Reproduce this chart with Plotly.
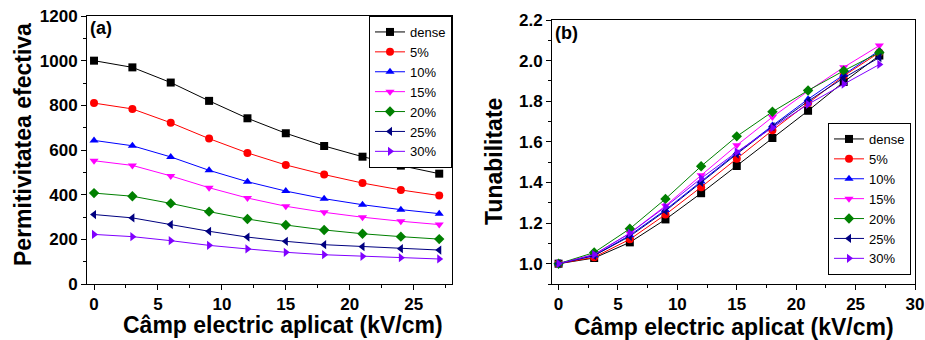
import plotly.graph_objects as go

field = [0, 3, 6, 9, 12, 15, 18, 21, 24, 27]
series_names = ["dense", "5%", "10%", "15%", "20%", "25%", "30%"]

perm_dense = [1000, 970, 902, 820, 742, 675, 618, 570, 530, 494]
perm_5 = [810, 784, 722, 651, 587, 533, 490, 452, 421, 396]
perm_10 = [643, 619, 569, 509, 458, 416, 382, 355, 333, 315]
perm_15 = [552, 531, 484, 431, 385, 348, 321, 299, 281, 266]
perm_20 = [407, 393, 361, 324, 291, 264, 242, 225, 212, 201]
perm_25 = [311, 296, 266, 236, 210, 191, 176, 167, 158, 152]
perm_30 = [222, 212, 194, 173, 157, 142, 131, 124, 118, 112]

tun_dense = [1.0, 1.028, 1.105, 1.218, 1.347, 1.481, 1.619, 1.753, 1.895, 2.025]
tun_5 = [1.0, 1.032, 1.12, 1.242, 1.377, 1.517, 1.657, 1.79, 1.925, 2.04]
tun_10 = [1.0, 1.04, 1.14, 1.265, 1.405, 1.545, 1.68, 1.81, 1.93, 2.05]
tun_15 = [1.0, 1.045, 1.15, 1.285, 1.435, 1.583, 1.722, 1.85, 1.967, 2.074]
tun_20 = [1.0, 1.055, 1.172, 1.319, 1.48, 1.627, 1.748, 1.853, 1.95, 2.04]
tun_25 = [1.0, 1.04, 1.135, 1.26, 1.40, 1.54, 1.675, 1.80, 1.915, 2.015]
tun_30 = [1.0, 1.045, 1.15, 1.28, 1.42, 1.55, 1.67, 1.785, 1.884, 1.981]

perm_all = [perm_dense, perm_5, perm_10, perm_15, perm_20, perm_25, perm_30]
tun_all = [tun_dense, tun_5, tun_10, tun_15, tun_20, tun_25, tun_30]

colors = ["#000000", "#FF0000", "#0000FF", "#FF00FF", "#008000", "#000080", "#8000FF"]
symbols = ["square", "circle", "triangle-up", "triangle-down", "diamond", "triangle-left", "triangle-right"]

W, H = 925, 340
FONT = "Liberation Sans, Arial, sans-serif"

fig = go.Figure()
for name, ys, c, s in zip(series_names, perm_all, colors, symbols):
    fig.add_trace(go.Scatter(x=field, y=ys, name=name, mode="lines+markers",
                             line=dict(color=c, width=1),
                             marker=dict(symbol=s, size=8, color=c),
                             xaxis="x", yaxis="y", legend="legend"))
for name, ys, c, s in zip(series_names, tun_all, colors, symbols):
    fig.add_trace(go.Scatter(x=field, y=ys, name=name, mode="lines+markers",
                             line=dict(color=c, width=1),
                             marker=dict(symbol=s, size=8, color=c),
                             xaxis="x2", yaxis="y2", legend="legend2"))

tickfont = dict(family=FONT, size=17, color="black", weight="bold")
common = dict(showline=True, linecolor="black", linewidth=1, mirror=True,
              ticks="outside", ticklen=5, tickwidth=1, tickcolor="black",
              showgrid=False, zeroline=False, tickfont=tickfont, automargin=False)

def px_x(p):
    return p / W

def px_y(p):
    return 1 - p / H

legend_common = dict(bordercolor="black", borderwidth=1, bgcolor="white",
                     font=dict(family=FONT, size=13, color="black"),
                     tracegroupgap=0, itemwidth=30)

fig.update_layout(
    width=W, height=H,
    margin=dict(l=0, r=0, t=0, b=0, autoexpand=False),
    paper_bgcolor="white", plot_bgcolor="white",
    xaxis=dict(domain=[px_x(87), px_x(452)], range=[-0.55, 28], dtick=5, tick0=0,
               minor=dict(dtick=2.5, ticklen=3, ticks="outside", tickcolor="black"),
               anchor="y", **common),
    yaxis=dict(domain=[px_y(284), px_y(16)], range=[0, 1200], dtick=200,
               minor=dict(dtick=100, ticklen=3, ticks="outside", tickcolor="black"),
               anchor="x", **common),
    xaxis2=dict(domain=[px_x(552), px_x(915)], range=[-0.55, 30], dtick=5, tick0=0,
                minor=dict(dtick=2.5, ticklen=3, ticks="outside", tickcolor="black"),
                anchor="y2", **common),
    yaxis2=dict(domain=[px_y(284), px_y(20)], range=[0.9, 2.2], dtick=0.2, tick0=1.0,
                tickformat=".1f",
                minor=dict(dtick=0.1, ticklen=3, ticks="outside", tickcolor="black"),
                anchor="x2", **common),
    legend=dict(x=px_x(452), xanchor="right", y=px_y(16), yanchor="top", **legend_common),
    legend2=dict(x=px_x(911), xanchor="right", y=px_y(275), yanchor="bottom", **legend_common),
)

title_font = dict(family=FONT, size=23, color="black", weight="bold")
label_font = dict(family=FONT, size=18, color="black", weight="bold")
annots = [
    dict(text="Câmp electric aplicat (kV/cm)", x=px_x(283), y=px_y(325),
         xref="paper", yref="paper", showarrow=False, font=title_font,
         xanchor="center", yanchor="middle"),
    dict(text="Câmp electric aplicat (kV/cm)", x=px_x(734), y=px_y(327),
         xref="paper", yref="paper", showarrow=False, font=title_font,
         xanchor="center", yanchor="middle"),
    dict(text="Permitivitatea efectiva", x=px_x(23), y=px_y(145),
         xref="paper", yref="paper", showarrow=False, font=title_font,
         textangle=-90, xanchor="center", yanchor="middle"),
    dict(text="Tunabilitate", x=px_x(494), y=px_y(162),
         xref="paper", yref="paper", showarrow=False, font=title_font,
         textangle=-90, xanchor="center", yanchor="middle"),
    dict(text="(a)", x=px_x(88), y=px_y(28), xref="paper", yref="paper",
         showarrow=False, font=label_font, xanchor="left", yanchor="middle"),
    dict(text="(b)", x=px_x(553), y=px_y(33), xref="paper", yref="paper",
         showarrow=False, font=label_font, xanchor="left", yanchor="middle"),
]
fig.update_layout(annotations=annots)

fig.write_html("out.html", config={"displayModeBar": False},
               post_script="document.body.style.margin='0';document.body.style.padding='0';document.body.style.overflow='hidden';")
